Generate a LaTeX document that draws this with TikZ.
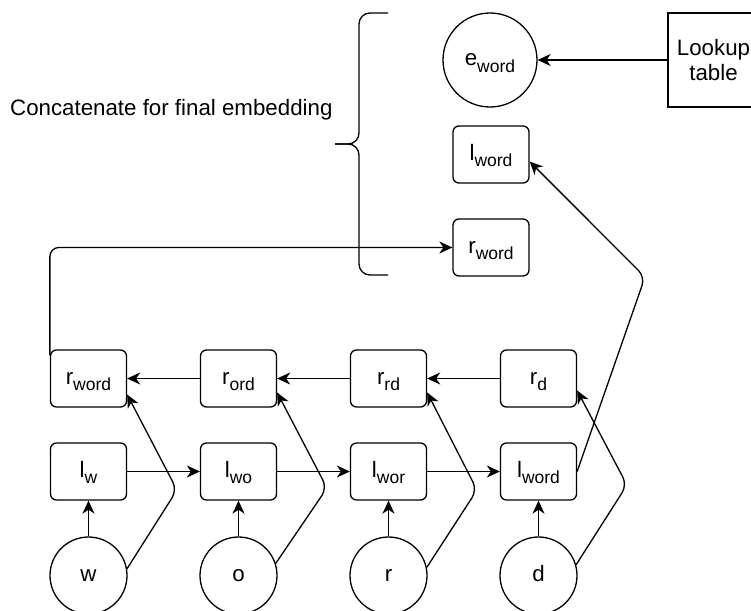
\documentclass[tikz,border=0pt]{standalone}
\usepackage{fontspec}
\setmainfont{Liberation Sans}
\usetikzlibrary{arrows.meta}
% lowered, smaller index text after a symbol
\newcommand{\lowsub}[1]{\raisebox{-6pt}{\fontsize{17.5}{18}\selectfont #1}}

\begin{document}
\begin{tikzpicture}[x=1pt,y=-1pt,
  every node/.style={font=\fontsize{22.3}{25}\selectfont, line width=1.3pt},
  cell/.style={draw, rounded corners=6pt, minimum width=76pt, minimum height=57pt,
    inner sep=0pt, text height=14pt, text depth=3pt},
  token/.style={draw, circle, minimum size=77pt, inner sep=0pt,
    text height=14pt, text depth=2pt},
  link/.style={draw, line width=1.3pt, -{Stealth[length=13pt,width=12pt,inset=4pt]}},
  elbow/.style={link, rounded corners=9pt},
  brace/.style={draw, line width=1.3pt, rounded corners=11pt},
]
\useasboundingbox (0,0) rectangle (751,610);

% input characters
\node[token] (cw) at (88.5,575.5) {w};
\node[token] (co) at (238.5,575.5) {o};
\node[token] (cr) at (388.5,575.5) {r};
\node[token] (cd) at (538.5,575.5) {d};

% forward states
\node[cell] (lw)    at (88.5,471.5)  {l\lowsub{w}};
\node[cell] (lwo)   at (238.5,471.5) {l\lowsub{wo}};
\node[cell] (lwor)  at (388.5,471.5) {l\lowsub{wor}};
\node[cell] (lword) at (538.5,471.5) {l\lowsub{word}};

% backward states
\node[cell] (rword) at (88.5,378.5)  {r\lowsub{word}};
\node[cell] (rord)  at (238.5,378.5) {r\lowsub{ord}};
\node[cell] (rrd)   at (388.5,378.5) {r\lowsub{rd}};
\node[cell] (rd)    at (538.5,378.5) {r\lowsub{d}};

% final pieces
\node[token, minimum size=94pt] (emb) at (490,60) {e\lowsub{word}};
\node[cell] (lfinal) at (491,154.5) {l\lowsub{word}};
\node[cell] (rfinal) at (491,247.5) {r\lowsub{word}};
\node[draw, minimum width=91pt, minimum height=94pt, align=center, inner sep=0pt]
  (lookup) at (713.5,60) {Lookup\\table};

\node[anchor=base west, inner sep=0pt] (caption) at (9.5,115) {Concatenate for final embedding};

% curly brace grouping the final pieces
\draw[brace] (388,13) -- (359,13) -- (359,144) -- (335,144);
\draw[brace] (335,144) -- (359,144) -- (359,275) -- (388,275);

% turning points of the skip connections
\coordinate (kw) at (177,490);
\coordinate (ko) at (327,488);
\coordinate (kr) at (477,490);
\coordinate (kd) at (627,485);
\coordinate (kup) at (645,277);

% character to forward state
\draw[link] (cw) -- (lw);
\draw[link] (co) -- (lwo);
\draw[link] (cr) -- (lwor);
\draw[link] (cd) -- (lword);

% forward chain
\draw[link] (lw) -- (lwo);
\draw[link] (lwo) -- (lwor);
\draw[link] (lwor) -- (lword);

% backward chain
\draw[link] (rd) -- (rrd);
\draw[link] (rrd) -- (rord);
\draw[link] (rord) -- (rword);

% character to backward state
\draw[elbow] (cw.10) -- (kw) -- ([yshift=-16pt]rword.east);
\draw[elbow] (co.18) -- (ko) -- ([yshift=-14pt]rord.east);
\draw[elbow] (cr.12) -- (kr) -- ([yshift=-14pt]rrd.east);
\draw[elbow] (cd.16) -- (kd) -- ([yshift=-12pt]rd.east);

% outputs to the final embedding
\draw[elbow] (lword.east) -- (kup) -- ([yshift=-7pt]lfinal.east);
\draw[elbow] ([yshift=-6pt]rword.north west) -- (rword.west |- rfinal) -- (rfinal);
\draw[link] (lookup) -- (emb);
\end{tikzpicture}
\end{document}
